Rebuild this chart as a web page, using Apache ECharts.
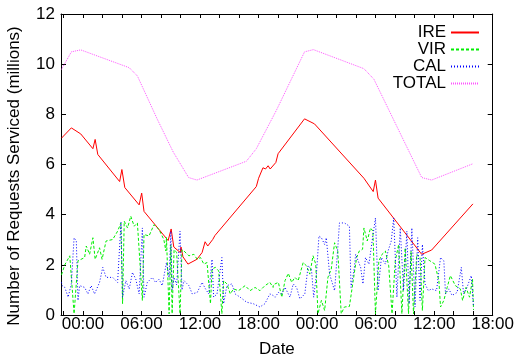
<!DOCTYPE html>
<html>
<head>
<meta charset="utf-8">
<script src="https://cdn.jsdelivr.net/npm/echarts@6/dist/echarts.min.js"></script>
<style>html,body{margin:0;padding:0;background:#fff}#c{width:517px;height:363px}</style>
</head>
<body>
<div id="c"></div>
<script>
// hours relative to midnight of first day
var tickHours = [0, 6, 12, 18, 24, 30, 36, 42];
var tickLabels = ['00:00', '06:00', '12:00', '18:00', '00:00', '06:00', '12:00', '18:00'];
var minorTickHours = [-2, 0, 2, 4, 6, 8, 10, 12, 14, 16, 18, 20, 22, 24, 26, 28, 30, 32, 34, 36, 38, 40, 42];
var yTicks = [0, 2, 4, 6, 8, 10, 12];
var seriesNames = ['IRE', 'VIR', 'CAL', 'TOTAL'];
var yTitle = 'Number of Requests Serviced (millions)';
var xTitle = 'Date';

var ireData = [[-2.2,7.05],[-1.19,7.46],[-0.23,7.22],[1.02,6.63],[1.25,7.0],[1.52,6.4],[3.76,5.32],[3.99,5.8],[4.29,5.08],[5.76,4.39],[6.02,4.86],[6.26,4.13],[8.73,2.97],[9.04,3.43],[9.31,2.71],[9.98,2.49],[10.05,2.71],[10.25,2.32],[10.76,2.03],[11.68,2.22],[12.21,2.49],[12.52,2.92],[12.79,2.75],[13.3,3.01],[13.53,3.17],[17.77,5.12],[18.0,5.45],[18.45,5.87],[18.71,5.82],[18.98,5.95],[19.19,5.82],[19.77,6.08],[20.0,6.43],[22.71,7.82],[23.73,7.62],[28.8,5.45],[29.75,4.92],[29.98,5.38],[30.25,4.66],[34.72,2.42],[35.74,2.59],[39.97,4.43]];

var virData = [[-2.2,1.6],[-1.86,2.0],[-1.35,2.36],[-0.91,0.05],[-0.51,2.16],[0.17,2.29],[0.34,2.75],[0.68,2.42],[1.02,3.08],[1.25,2.22],[1.70,2.68],[1.96,2.22],[2.37,2.95],[3.05,3.01],[3.55,3.34],[3.89,3.67],[4.06,0.45],[4.23,3.74],[4.57,3.47],[4.90,3.94],[5.25,3.54],[5.58,3.67],[6.09,0.58],[6.26,3.21],[6.77,3.15],[7.28,3.6],[7.79,3.41],[8.29,3.01],[8.50,2.55],[8.56,3.1],[8.83,0.05],[9.01,2.8],[9.14,0.05],[9.34,2.6],[9.6,2.5],[9.95,0.05],[10.15,2.6],[10.36,2.55],[10.86,2.36],[11.37,2.42],[11.71,2.22],[12.05,2.29],[12.39,2.03],[12.72,2.09],[13.07,0.45],[13.23,1.83],[13.57,1.9],[13.91,1.76],[14.24,0.05],[14.42,1.37],[14.75,1.24],[15.10,0.84],[15.43,1.04],[15.94,0.97],[16.62,1.17],[17.13,0.97],[17.64,1.1],[18.14,0.97],[18.65,1.17],[19.16,1.3],[19.49,1.1],[19.52,1.21],[20.03,1.3],[20.38,0.71],[20.71,1.37],[21.05,1.66],[21.39,1.3],[21.73,1.5],[22.06,1.37],[22.57,2.09],[22.91,1.96],[23.25,1.63],[23.58,2.36],[23.86,2.03],[24.09,0.05],[24.44,0.58],[24.77,0.18],[25.11,1.5],[25.45,1.83],[25.79,2.88],[26.12,2.55],[26.47,0.05],[26.80,0.32],[27.31,0.34],[27.65,1.24],[28.05,2.29],[28.32,2.55],[28.66,2.62],[28.80,3.47],[29.14,2.95],[29.47,3.47],[29.72,3.34],[29.98,0.05],[30.33,2.16],[30.66,2.42],[31.00,2.55],[31.34,1.96],[31.68,0.05],[32.01,2.16],[32.36,2.81],[32.69,0.05],[33.03,2.68],[33.37,0.05],[33.63,2.55],[33.88,0.05],[34.21,2.42],[34.55,2.29],[34.79,0.18],[35.06,2.29],[35.56,2.16],[36.07,2.03],[36.48,1.37],[36.65,0.32],[36.99,0.58],[37.33,1.1],[37.66,1.57],[38.17,1.17],[38.68,1.04],[38.91,0.58],[39.26,1.1],[39.62,0.71],[39.93,1.43],[40.03,0.2]];

var calData = [[-2.2,1.3],[-2.13,1.17],[-1.86,1.1],[-1.52,0.71],[-1.19,1.24],[-0.91,3.08],[-0.68,2.95],[-0.51,0.58],[-0.34,1.17],[0.17,1.1],[0.51,0.84],[0.84,1.17],[1.19,0.84],[1.70,1.3],[2.03,1.9],[2.37,1.5],[3.05,1.5],[3.55,1.3],[3.9,3.7],[4.06,0.71],[4.40,1.37],[4.74,1.04],[5.08,1.7],[5.41,1.43],[5.76,0.84],[6.09,3.47],[6.26,0.71],[6.60,1.3],[7.11,1.5],[7.44,1.3],[7.79,1.43],[8.12,1.17],[8.56,2.09],[8.83,1.5],[9.01,3.34],[9.14,1.0],[9.34,1.5],[9.6,1.2],[9.95,3.34],[10.15,1.0],[10.36,1.37],[10.86,1.17],[11.20,0.84],[11.71,0.9],[12.21,1.3],[12.56,1.04],[12.89,0.84],[13.23,2.22],[13.40,0.71],[13.74,0.84],[14.24,2.29],[14.42,0.45],[14.75,1.17],[15.26,1.24],[15.60,0.84],[16.11,0.71],[16.78,0.51],[17.46,0.45],[18.14,0.32],[18.65,0.45],[19.16,0.84],[19.49,0.78],[19.70,0.71],[20.03,0.9],[20.38,0.84],[20.71,1.1],[21.22,0.71],[21.55,1.24],[21.90,1.1],[22.23,0.64],[22.74,0.84],[23.08,1.96],[23.42,1.83],[23.65,0.71],[23.93,1.63],[24.19,3.15],[24.44,3.08],[24.77,2.81],[24.94,3.08],[25.28,1.63],[25.79,0.97],[26.12,2.68],[26.29,3.67],[26.80,3.67],[27.31,3.54],[27.48,1.1],[27.82,1.9],[27.95,2.42],[28.46,1.9],[28.70,1.24],[28.96,2.29],[29.31,2.03],[29.64,2.95],[29.98,3.87],[30.25,0.97],[30.59,2.29],[31.00,2.03],[31.27,2.55],[31.60,2.95],[31.85,3.87],[32.18,0.71],[32.52,3.47],[32.86,0.97],[33.20,3.34],[33.43,0.45],[33.71,3.47],[34.04,0.32],[34.31,3.08],[34.55,0.58],[34.79,2.81],[35.06,1.24],[35.40,0.97],[35.74,1.04],[36.24,0.97],[36.65,2.29],[36.99,2.16],[37.16,0.84],[37.49,1.04],[37.84,0.78],[38.35,0.9],[38.78,1.9],[39.01,0.84],[39.36,1.1],[39.80,1.57],[40.03,0.32]];

var totalData = [[-2.2,9.79],[-1.19,10.49],[-0.23,10.57],[4.74,9.86],[5.58,9.53],[7.6,7.82],[9.25,6.5],[10.83,5.48],[11.68,5.38],[16.75,6.13],[17.77,6.63],[19.8,8.14],[22.71,10.49],[23.62,10.58],[28.8,9.82],[29.82,9.4],[34.72,5.48],[35.74,5.38],[39.97,6.03]];

var FONT = 'Liberation Sans';
var FS = 17;
var chart = echarts.init(document.getElementById('c'), null, {renderer: 'canvas'});

function xLabel(v) {
  var i = tickHours.indexOf(v);
  return i >= 0 ? tickLabels[i] : '';
}

var axisLine = {show: true, onZero: false, lineStyle: {color: '#000', width: 1}};
var option = {
  animation: false,
  backgroundColor: '#fff',
  grid: {left: 61, right: 20, top: 14, bottom: 45, containLabel: false},
  legend: {
    orient: 'vertical', right: 32, top: 19, align: 'right',
    itemWidth: 28, itemHeight: 10, itemGap: 0,
    itemStyle: {opacity: 0},
    textStyle: {fontFamily: FONT, fontSize: FS, color: '#000', lineHeight: 16.5},
    data: seriesNames
  },
  graphic: [{
    type: 'text', x: 14.5, y: 176, rotation: Math.PI / 2,
    style: {text: yTitle, fontFamily: FONT, fontSize: FS, fill: '#000', align: 'center', verticalAlign: 'middle'}
  }],
  xAxis: [{
    type: 'value', min: -2.25, max: 42, position: 'bottom',
    name: xTitle, nameLocation: 'middle', nameGap: 26,
    nameTextStyle: {fontFamily: FONT, fontSize: FS, color: '#000'},
    axisLine: axisLine,
    axisTick: {show: true, inside: true, length: 4, customValues: minorTickHours, lineStyle: {color: '#000'}},
    axisLabel: {show: true, customValues: tickHours, formatter: xLabel, margin: 1,
      fontFamily: FONT, fontSize: FS, color: '#000'},
    splitLine: {show: false}
  }, {
    type: 'value', min: -2.25, max: 42, position: 'top',
    axisLine: axisLine,
    axisTick: {show: true, inside: true, length: 4, customValues: minorTickHours, lineStyle: {color: '#000'}},
    axisLabel: {show: false}, splitLine: {show: false}
  }],
  yAxis: [{
    type: 'value', min: 0, max: 12, interval: 2, position: 'left',
    axisLine: axisLine,
    axisTick: {show: true, inside: true, length: 5, lineStyle: {color: '#000'}},
    axisLabel: {fontFamily: FONT, fontSize: FS, color: '#000', margin: 6,
      formatter: function (v) { return yTicks.indexOf(v) >= 0 ? String(v) : ''; }},
    splitLine: {show: false}
  }, {
    type: 'value', min: 0, max: 12, interval: 2, position: 'right',
    axisLine: axisLine,
    axisTick: {show: true, inside: true, length: 5, lineStyle: {color: '#000'}},
    axisLabel: {show: false}, splitLine: {show: false}
  }],
  series: [
    {name: seriesNames[0], type: 'line', data: ireData, symbol: 'none', color: '#ff0000',
      lineStyle: {color: '#ff0000', width: 1}},
    {name: seriesNames[1], type: 'line', data: virData, symbol: 'none', color: '#00ee00',
      lineStyle: {color: '#00ee00', width: 1, type: [3, 2]}},
    {name: seriesNames[2], type: 'line', data: calData, symbol: 'none', color: '#0000ff',
      lineStyle: {color: '#0000ff', width: 1, type: [1, 2]}},
    {name: seriesNames[3], type: 'line', data: totalData, symbol: 'none', color: '#ff55ff',
      lineStyle: {color: '#ff55ff', width: 1, type: [1, 1]}}
  ]
};
chart.setOption(option);
</script>
</body>
</html>
